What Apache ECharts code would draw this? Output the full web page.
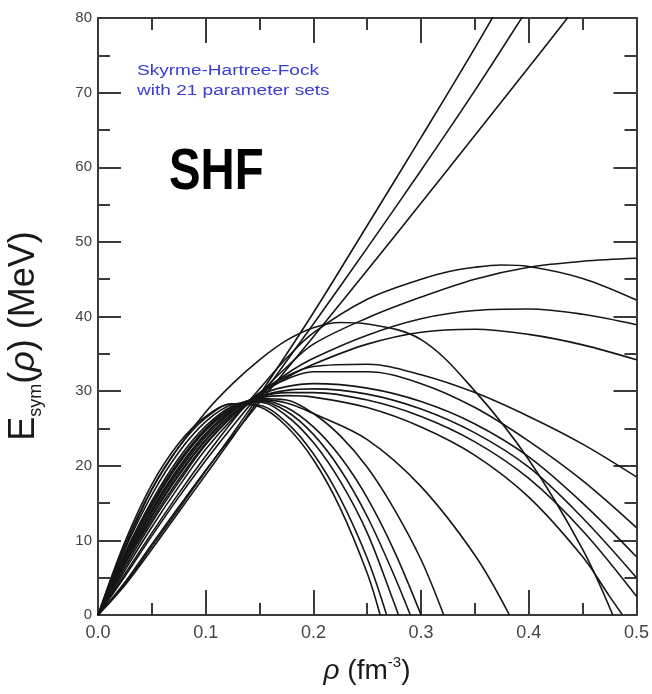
<!DOCTYPE html>
<html>
<head>
<meta charset="utf-8">
<script src="https://cdn.jsdelivr.net/npm/echarts@6/dist/echarts.min.js"></script>
<style>
  html, body { margin: 0; padding: 0; background: #fff; }
  #chart { width: 652px; height: 694px; }
</style>
</head>
<body>
<div id="chart"></div>
<script>
// tick labels
const xTicks = [0, 0.1, 0.2, 0.3, 0.4, 0.5]
const yTicks = [0, 10, 20, 30, 40, 50, 60, 70, 80]

// stiff, nearly linear sets (run off the top)
const stiff1 = [[0, 0], [0.025, 4.2], [0.05, 9.2], [0.075, 14.2], [0.1, 19.3], [0.125, 24.3], [0.15, 29.5], [0.2, 40.5], [0.25, 52.2], [0.3, 64], [0.35, 76], [0.4, 88.5]]
const stiff2 = [[0, 0], [0.025, 4], [0.05, 8.8], [0.075, 13.8], [0.1, 18.8], [0.125, 23.8], [0.15, 29], [0.2, 39], [0.25, 49.2], [0.3, 59.6], [0.35, 70.3], [0.4, 81.5]]
const stiff3 = [[0, 0], [0.025, 4.4], [0.05, 9.5], [0.075, 14.5], [0.1, 19.4], [0.125, 24], [0.15, 28.5], [0.2, 37.3], [0.25, 46.2], [0.3, 55.2], [0.35, 64.3], [0.4, 73.4], [0.45, 82.6]]

// sets that stay high up to 0.5
const high1 = [[0, 0], [0.025, 5.5], [0.05, 11], [0.075, 16.3], [0.1, 21.3], [0.125, 26], [0.15, 30.3], [0.175, 34.4], [0.2, 37.8], [0.25, 42.3], [0.3, 45], [0.325, 46], [0.35, 46.6], [0.375, 46.9], [0.4, 46.7], [0.45, 45.1], [0.5, 42.2]]
const high2 = [[0, 0], [0.025, 5.2], [0.05, 10.6], [0.075, 15.8], [0.1, 20.7], [0.125, 25.3], [0.15, 29.6], [0.175, 33.2], [0.2, 36.3], [0.25, 39.8], [0.3, 42.6], [0.35, 45], [0.4, 46.6], [0.45, 47.4], [0.5, 47.8]]
const high3 = [[0, 0], [0.025, 6], [0.05, 11.8], [0.075, 17.2], [0.1, 22.2], [0.125, 26.3], [0.15, 29.6], [0.175, 32.3], [0.2, 34.4], [0.25, 37.5], [0.3, 39.7], [0.35, 40.8], [0.4, 41], [0.45, 40.3], [0.5, 38.9]]
const high4 = [[0, 0], [0.025, 6.4], [0.05, 12.4], [0.075, 17.8], [0.1, 22.8], [0.125, 26.6], [0.15, 29.5], [0.175, 31.8], [0.2, 33.6], [0.25, 36.3], [0.3, 37.9], [0.35, 38.3], [0.4, 37.6], [0.45, 36.2], [0.5, 34.2]]
const high5 = [[0, 0], [0.025, 9], [0.05, 16.8], [0.075, 22.5], [0.1, 27.2], [0.125, 31], [0.15, 34.2], [0.175, 36.8], [0.2, 38.5], [0.225, 39.2], [0.25, 39], [0.3, 36.9], [0.35, 30], [0.4, 20.8], [0.45, 8.8], [0.478, 0]]

// sets bending down towards the right edge
const mid1 = [[0, 0], [0.025, 6.8], [0.05, 12.8], [0.075, 18.2], [0.1, 23], [0.125, 26.8], [0.15, 29.8], [0.175, 32], [0.2, 33.3], [0.25, 33.6], [0.3, 32.2], [0.35, 29.8], [0.4, 26.6], [0.45, 22.9], [0.5, 18.5]]
const mid2 = [[0, 0], [0.025, 7], [0.05, 13.2], [0.075, 18.7], [0.1, 23.4], [0.125, 27], [0.15, 29.7], [0.175, 31.6], [0.2, 32.6], [0.25, 32.6], [0.3, 31], [0.35, 27.8], [0.4, 23.3], [0.45, 18], [0.5, 11.7]]
const mid3 = [[0, 0], [0.025, 7.4], [0.05, 13.8], [0.075, 19.3], [0.1, 23.9], [0.125, 27.3], [0.15, 29.5], [0.175, 30.6], [0.2, 31], [0.25, 30.4], [0.3, 28.6], [0.35, 25.6], [0.4, 21.2], [0.45, 15], [0.5, 7.8]]
const mid4 = [[0, 0], [0.025, 7.6], [0.05, 14.2], [0.075, 19.8], [0.1, 24.3], [0.125, 27.5], [0.15, 29.3], [0.175, 30.1], [0.2, 30.3], [0.25, 29.6], [0.3, 27.6], [0.35, 24.4], [0.4, 19.8], [0.45, 13], [0.5, 5]]
const mid5 = [[0, 0], [0.025, 7.9], [0.05, 14.7], [0.075, 20.3], [0.1, 24.7], [0.125, 27.7], [0.15, 29.2], [0.175, 29.8], [0.2, 29.8], [0.25, 28.8], [0.3, 26.6], [0.35, 23.2], [0.4, 18.3], [0.45, 11.3], [0.5, 2.5]]
const mid6 = [[0, 0], [0.025, 8.1], [0.05, 15], [0.075, 20.6], [0.1, 25], [0.125, 27.9], [0.15, 29.1], [0.175, 29.4], [0.2, 29.2], [0.25, 27.8], [0.3, 25.2], [0.35, 21.4], [0.4, 15.8], [0.45, 7.8], [0.475, 2.5], [0.487, 0]]

// soft sets that fall to zero early
const soft1 = [[0, 0], [0.025, 9.8], [0.05, 17.5], [0.075, 23], [0.1, 26.6], [0.125, 28.3], [0.15, 27.9], [0.175, 25.3], [0.2, 20.8], [0.225, 14.3], [0.25, 5.6], [0.262, 0]]
const soft2 = [[0, 0], [0.025, 9.4], [0.05, 16.9], [0.075, 22.5], [0.1, 26.4], [0.125, 28.3], [0.15, 28.1], [0.175, 25.8], [0.2, 21.6], [0.225, 15.6], [0.25, 7.6], [0.268, 0]]
const soft3 = [[0, 0], [0.025, 8.8], [0.05, 16.1], [0.075, 21.8], [0.1, 25.9], [0.125, 28.2], [0.15, 28.5], [0.175, 26.7], [0.2, 23.1], [0.225, 17.9], [0.25, 11], [0.275, 1.6], [0.279, 0]]
const soft4 = [[0, 0], [0.025, 8.3], [0.05, 15.3], [0.075, 21], [0.1, 25.3], [0.125, 28], [0.15, 28.7], [0.175, 27.3], [0.2, 24.2], [0.225, 19.5], [0.25, 13.2], [0.275, 5.3], [0.29, 0]]
const soft5 = [[0, 0], [0.025, 7.8], [0.05, 14.6], [0.075, 20.3], [0.1, 24.8], [0.125, 27.7], [0.15, 28.8], [0.175, 27.8], [0.2, 25.2], [0.225, 21.2], [0.25, 15.7], [0.275, 8.6], [0.3, 0]]
const soft6 = [[0, 0], [0.025, 7.4], [0.05, 14], [0.075, 19.6], [0.1, 24.2], [0.125, 27.4], [0.15, 29], [0.175, 28.8], [0.2, 27], [0.225, 24], [0.25, 19.8], [0.275, 14.2], [0.3, 7.4], [0.321, 0]]
const soft7 = [[0, 0], [0.025, 7.1], [0.05, 13.4], [0.075, 18.9], [0.1, 23.5], [0.125, 27], [0.15, 28.9], [0.175, 28.4], [0.2, 27], [0.25, 23.5], [0.3, 17.2], [0.35, 8], [0.382, 0]]

const curves = [stiff1, stiff2, stiff3, high1, high2, high3, high4, high5,
  mid1, mid2, mid3, mid4, mid5, mid6, soft1, soft2, soft3, soft4, soft5, soft6, soft7]

const chart = echarts.init(document.getElementById('chart'))

const axisColor = '#3a3a3a'
const tickStyle = { color: axisColor, width: 2 }

// x axis bottom + top (mirror)
const xAxisBase = {
  type: 'value',
  min: xTicks[0],
  max: xTicks[xTicks.length - 1],
  interval: 0.1,
  splitLine: { show: false },
  axisLine: { show: true, onZero: false, lineStyle: { color: axisColor, width: 2 } },
  axisTick: { show: true, inside: true, length: 25, lineStyle: tickStyle },
  minorTick: { show: true, splitNumber: 2, length: 12, lineStyle: tickStyle }
}
const yAxisBase = {
  type: 'value',
  min: yTicks[0],
  max: yTicks[yTicks.length - 1],
  interval: 10,
  splitLine: { show: false },
  axisLine: { show: true, onZero: false, lineStyle: { color: axisColor, width: 2 } },
  axisTick: { show: true, inside: true, length: 23, lineStyle: tickStyle },
  minorTick: { show: true, splitNumber: 2, length: 12, lineStyle: tickStyle }
}

const option = {
  animation: false,
  backgroundColor: '#fff',
  grid: { left: 98, right: 15, top: 18, bottom: 79 },
  xAxis: [
    Object.assign({}, xAxisBase, {
      position: 'bottom',
      axisLabel: {
        fontFamily: 'Liberation Sans', fontSize: 18, color: '#444', margin: 9,
        formatter: v => v.toFixed(1)
      }
    }),
    Object.assign({}, xAxisBase, { position: 'top', axisLabel: { show: false } })
  ],
  yAxis: [
    Object.assign({}, yAxisBase, {
      position: 'left',
      axisLabel: { fontFamily: 'Liberation Sans', fontSize: 15, color: '#444', margin: 6 }
    }),
    Object.assign({}, yAxisBase, { position: 'right', axisLabel: { show: false } })
  ],
  series: curves.map(c => ({
    type: 'line',
    xAxisIndex: 0,
    yAxisIndex: 0,
    data: c,
    smooth: 0.35,
    showSymbol: false,
    clip: true,
    lineStyle: { color: '#161616', width: 1.6 }
  })),
  graphic: [
    {
      type: 'text', left: 137, top: 64, scaleX: 1.36,
      style: { text: 'Skyrme-Hartree-Fock', fill: '#3b3bd6', font: '14px "Liberation Sans"' }
    },
    {
      type: 'text', left: 137, top: 84, scaleX: 1.36,
      style: { text: 'with 21 parameter sets', fill: '#3b3bd6', font: '14px "Liberation Sans"' }
    },
    {
      type: 'text', left: 169, top: 145, scaleX: 0.83,
      style: { text: 'SHF', fill: '#000', font: 'bold 57px "Liberation Sans"' }
    },
    {
      // y axis title, rotated
      type: 'text', x: 24, y: 336, rotation: Math.PI / 2,
      style: {
        text: '{n|E}{sub|sym}{n|(}{i|ρ}{n|) (MeV)}',
        align: 'center', verticalAlign: 'middle',
        rich: {
          n: { fontFamily: 'Liberation Sans', fontSize: 36, fill: '#1a1a1a', lineHeight: 42, verticalAlign: 'middle' },
          i: { fontFamily: 'Liberation Sans', fontSize: 36, fill: '#1a1a1a', fontStyle: 'italic', lineHeight: 42, verticalAlign: 'middle' },
          sub: { fontFamily: 'Liberation Sans', fontSize: 18, fill: '#1a1a1a', lineHeight: 42, verticalAlign: 'bottom' }
        }
      }
    },
    {
      // x axis title
      type: 'text', x: 367, y: 671,
      style: {
        text: '{i|ρ}{n| (fm}{sup|-3}{n|)}',
        align: 'center', verticalAlign: 'middle',
        rich: {
          n: { fontFamily: 'Liberation Sans', fontSize: 28, fill: '#1a1a1a', lineHeight: 32, verticalAlign: 'middle' },
          i: { fontFamily: 'Liberation Sans', fontSize: 28, fill: '#1a1a1a', fontStyle: 'italic', lineHeight: 32, verticalAlign: 'middle' },
          sup: { fontFamily: 'Liberation Sans', fontSize: 15, fill: '#1a1a1a', lineHeight: 32, verticalAlign: 'top' }
        }
      }
    }
  ]
}

chart.setOption(option)
</script>
</body>
</html>
